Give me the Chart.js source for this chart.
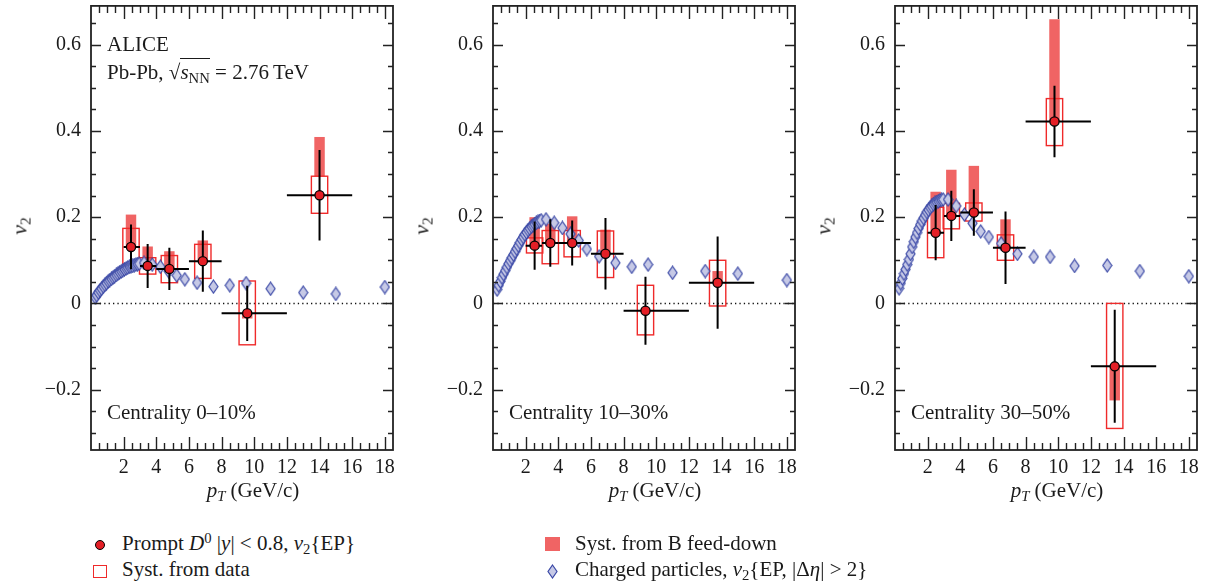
<!DOCTYPE html>
<html>
<head>
<meta charset="utf-8">
<script src="https://cdn.jsdelivr.net/npm/chart.js@4.4.1/dist/chart.umd.min.js"></script>
<style>
  html, body { margin: 0; padding: 0; background: #fff; }
  body { width: 1209px; height: 586px; position: relative; overflow: hidden;
         font-family: "Liberation Serif", "DejaVu Serif", serif; color: #1a1a1a; }
  .panel { position: absolute; top: 0; }
  .txt { position: absolute; font-size: 21px; line-height: 21px; white-space: nowrap; }
  sub, sup { font-size: 0.7em; line-height: 0; }
  sub { vertical-align: -0.28em; }
  sup { vertical-align: 0.5em; }
  .root { border-top: 1.2px solid #1a1a1a; padding-top: 1px; }
  .mk { position: absolute; box-sizing: border-box; }
</style>
</head>
<body>
<script>
// ================================
// Axes
// ================================
const xTicks = [2, 4, 6, 8, 10, 12, 14, 16, 18]
const yTicks = [-0.2, 0, 0.2, 0.4, 0.6]
const yTickLabels = ["\u22120.2", "0", "0.2", "0.4", "0.6"]
const X_MIN = 0, X_MAX = 18.5
const Y_MIN = -0.34, Y_MAX = 0.69

// ================================
// D0 bins (GeV/c)
// ================================
const binLo = [2, 3, 4, 6, 8, 12]
const binHi = [3, 4, 6, 8, 12, 16]
const centralities = ["Centrality 0\u201310%", "Centrality 10\u201330%", "Centrality 30\u201350%"]

// 0-10%
const d0Pt_a = [2.45, 3.47, 4.8, 6.85, 9.57, 14.0]
const d0V2_a = [0.131, 0.087, 0.080, 0.098, -0.023, 0.251]
const d0Stat_a = [0.052, 0.051, 0.049, 0.071, 0.064, 0.105]
const systLo_a = [0.088, 0.068, 0.048, 0.058, -0.096, 0.209]
const systHi_a = [0.174, 0.106, 0.111, 0.137, 0.052, 0.295]
const fdLo_a = [0.131, 0.087, 0.080, 0.098, -0.035, 0.295]
const fdHi_a = [0.206, 0.132, 0.121, 0.146, -0.023, 0.386]

// 10-30%
const d0Pt_b = [2.55, 3.51, 4.85, 6.89, 9.34, 13.76]
const d0V2_b = [0.134, 0.140, 0.140, 0.115, -0.017, 0.048]
const d0Stat_b = [0.056, 0.055, 0.052, 0.083, 0.079, 0.107]
const systLo_b = [0.117, 0.092, 0.108, 0.060, -0.073, -0.006]
const systHi_b = [0.152, 0.169, 0.169, 0.168, 0.042, 0.100]
const fdLo_b = [0.134, 0.140, 0.140, 0.115, -0.017, 0.048]
const fdHi_b = [0.200, 0.185, 0.202, 0.171, -0.017, 0.075]

// 30-50%
const d0Pt_c = [2.49, 3.45, 4.83, 6.77, 9.77, 13.46]
const d0V2_c = [0.164, 0.203, 0.211, 0.129, 0.422, -0.146]
const d0Stat_c = [0.064, 0.058, 0.054, 0.084, 0.083, 0.131]
const systLo_c = [0.106, 0.173, 0.191, 0.100, 0.366, -0.290]
const systHi_c = [0.223, 0.232, 0.233, 0.159, 0.475, 0.0]
const fdLo_c = [0.164, 0.203, 0.211, 0.129, 0.422, -0.225]
const fdHi_c = [0.259, 0.310, 0.319, 0.195, 0.659, -0.146]

// ================================
// Charged particles v2{EP, |Δη| > 2}
// ================================
const chPt = [0.25, 0.35, 0.45, 0.55, 0.65, 0.75, 0.85, 0.95, 1.05, 1.15,
  1.25, 1.35, 1.45, 1.55, 1.65, 1.75, 1.85, 1.95, 2.05, 2.15,
  2.25, 2.35, 2.45, 2.55, 2.65, 2.75, 2.85, 2.95, 3.25, 3.75,
  4.25, 4.75, 5.25, 5.75, 6.5, 7.5, 8.5, 9.5, 11, 13, 15, 18]
const chV2_a = [0.014, 0.019, 0.025, 0.030, 0.034, 0.039, 0.043, 0.047, 0.051, 0.054,
  0.057, 0.060, 0.063, 0.066, 0.069, 0.072, 0.074, 0.077, 0.079, 0.081,
  0.083, 0.085, 0.086, 0.087, 0.089, 0.090, 0.091, 0.092, 0.094, 0.090,
  0.085, 0.075, 0.065, 0.056, 0.048, 0.039, 0.042, 0.047, 0.034, 0.025, 0.022, 0.038]
const chV2_b = [0.032, 0.042, 0.051, 0.060, 0.068, 0.076, 0.084, 0.092, 0.099, 0.106,
  0.113, 0.120, 0.127, 0.134, 0.141, 0.148, 0.154, 0.160, 0.165, 0.170,
  0.174, 0.178, 0.181, 0.184, 0.187, 0.189, 0.191, 0.193, 0.195, 0.187,
  0.175, 0.161, 0.146, 0.126, 0.109, 0.094, 0.085, 0.090, 0.071, 0.075, 0.069, 0.054]
const chV2_c = [0.035, 0.047, 0.058, 0.069, 0.079, 0.090, 0.102, 0.115, 0.131, 0.143,
  0.154, 0.164, 0.174, 0.183, 0.191, 0.198, 0.205, 0.212, 0.217, 0.222,
  0.226, 0.230, 0.233, 0.235, 0.237, 0.239, 0.240, 0.241, 0.241, 0.226,
  0.206, 0.186, 0.167, 0.154, 0.139, 0.115, 0.108, 0.108, 0.087, 0.088, 0.075, 0.063]

// ================================
// Panel layout
// ================================
const AREA_LEFT = [91, 493, 895]
const AREA_W = 302
const Y_AXIS_W = 93
const PAD_RIGHT = 8
const CANVAS_H = 520
const AREA_TOP = 4
const AREA_BOTTOM = 450

const RED = "#e41f26"
const FD_RED = "#f06464"
const BOX_RED = "#ef2a2a"
const INK = "#1a1a1a"

const panels = [
  { pt: d0Pt_a, v2: d0V2_a, stat: d0Stat_a, sLo: systLo_a, sHi: systHi_a, fLo: fdLo_a, fHi: fdHi_a, ch: chV2_a },
  { pt: d0Pt_b, v2: d0V2_b, stat: d0Stat_b, sLo: systLo_b, sHi: systHi_b, fLo: fdLo_b, fHi: fdHi_b, ch: chV2_b },
  { pt: d0Pt_c, v2: d0V2_c, stat: d0Stat_c, sLo: systLo_c, sHi: systHi_c, fLo: fdLo_c, fHi: fdHi_c, ch: chV2_c },
]

// diamond marker for charged particles
function makeDiamond(w, h) {
  const c = document.createElement("canvas")
  c.width = w
  c.height = h
  const g = c.getContext("2d")
  g.beginPath()
  g.moveTo(w / 2, 1)
  g.lineTo(w - 1, h / 2)
  g.lineTo(w / 2, h - 1)
  g.lineTo(1, h / 2)
  g.closePath()
  g.fillStyle = "#c6c9e6"
  g.fill()
  g.strokeStyle = "#3a48a6"
  g.lineWidth = 1.2
  g.stroke()
  return c
}
const diamond = makeDiamond(11, 15)

// no automatic label padding: chart area is fixed by the layout numbers
function noPadding(s) {
  s.paddingTop = 0
  s.paddingBottom = 0
  s.paddingLeft = 0
  s.paddingRight = 0
}

// ================================
// Plugin: syst boxes, error bars, inward ticks
// ================================
function hepPlugin(p) {
  return {
    id: "hep",
    beforeDatasetsDraw(chart) {
      const { ctx, chartArea: a, scales: { x, y } } = chart
      ctx.save()
      ctx.beginPath()
      ctx.rect(a.left, a.top, a.right - a.left, a.bottom - a.top)
      ctx.clip()

      // dotted zero line
      const y0 = Math.round(y.getPixelForValue(0)) + 0.5
      ctx.strokeStyle = "#111"
      ctx.lineWidth = 1.3
      ctx.setLineDash([1.3, 3.1])
      ctx.beginPath()
      ctx.moveTo(a.left, y0)
      ctx.lineTo(a.right, y0)
      ctx.stroke()
      ctx.setLineDash([])

      // B feed-down (filled)
      ctx.fillStyle = FD_RED
      p.pt.forEach((pt, i) => {
        const x0 = x.getPixelForValue(pt - 0.32)
        const x1 = x.getPixelForValue(pt + 0.32)
        const yt = y.getPixelForValue(p.fHi[i])
        const yb = y.getPixelForValue(p.fLo[i])
        ctx.fillRect(x0, yt, x1 - x0, yb - yt)
      })

      // syst. from data (open)
      ctx.strokeStyle = BOX_RED
      ctx.lineWidth = 1.4
      p.pt.forEach((pt, i) => {
        const x0 = x.getPixelForValue(pt - 0.5)
        const x1 = x.getPixelForValue(pt + 0.5)
        const yt = y.getPixelForValue(p.sHi[i])
        const yb = y.getPixelForValue(p.sLo[i])
        ctx.strokeRect(x0, yt, x1 - x0, yb - yt)
      })
      ctx.restore()
    },
    beforeDatasetDraw(chart, args) {
      if (args.index !== 0) return
      const { ctx, scales: { x, y } } = chart
      ctx.save()
      ctx.strokeStyle = "#000"
      ctx.lineWidth = 2
      p.pt.forEach((pt, i) => {
        const px = x.getPixelForValue(pt)
        const py = y.getPixelForValue(p.v2[i])
        ctx.beginPath()
        ctx.moveTo(x.getPixelForValue(binLo[i]), py)
        ctx.lineTo(x.getPixelForValue(binHi[i]), py)
        ctx.moveTo(px, y.getPixelForValue(p.v2[i] + p.stat[i]))
        ctx.lineTo(px, y.getPixelForValue(p.v2[i] - p.stat[i]))
        ctx.stroke()
      })
      ctx.restore()
    },
    afterDraw(chart) {
      const { ctx, chartArea: a, scales: { x, y } } = chart
      ctx.save()
      ctx.strokeStyle = "#222"
      ctx.lineWidth = 1.4
      ctx.beginPath()
      // x: minor every 0.5, major every 2
      for (let i = 1; i * 0.5 < X_MAX; i++) {
        const len = i % 4 === 0 ? 13 : 7
        const px = Math.round(x.getPixelForValue(i * 0.5)) + 0.5
        ctx.moveTo(px, a.bottom)
        ctx.lineTo(px, a.bottom - len)
        ctx.moveTo(px, a.top)
        ctx.lineTo(px, a.top + len)
      }
      // y: minor every 0.05, major every 0.2
      for (let i = Math.ceil(Y_MIN / 0.05); i * 0.05 < Y_MAX; i++) {
        const len = i % 4 === 0 ? 10 : 5
        const py = Math.round(y.getPixelForValue(i * 0.05)) + 0.5
        ctx.moveTo(a.left, py)
        ctx.lineTo(a.left + len, py)
        ctx.moveTo(a.right, py)
        ctx.lineTo(a.right - len, py)
      }
      ctx.stroke()
      ctx.lineWidth = 1.8
      ctx.strokeRect(a.left, a.top, a.right - a.left, a.bottom - a.top)
      ctx.restore()
    },
  }
}

// ================================
// Text helpers
// ================================
function addText(html, left, baseline, extra) {
  const d = document.createElement("div")
  d.className = "txt"
  d.innerHTML = html
  d.style.left = left + "px"
  d.style.top = Math.round(baseline - 17.6) + "px"
  if (extra) Object.assign(d.style, extra)
  document.body.appendChild(d)
  return d
}

// ================================
// Charts
// ================================
const tickFont = { family: "Liberation Serif", size: 20 }

panels.forEach((p, k) => {
  const wrap = document.createElement("div")
  wrap.className = "panel"
  wrap.style.left = (AREA_LEFT[k] - Y_AXIS_W) + "px"
  const cv = document.createElement("canvas")
  cv.width = Y_AXIS_W + AREA_W + PAD_RIGHT
  cv.height = CANVAS_H
  wrap.appendChild(cv)
  document.body.appendChild(wrap)

  new Chart(cv.getContext("2d"), {
    type: "scatter",
    data: {
      datasets: [
        {
          label: "D0",
          data: p.pt.map((v, i) => ({ x: v, y: p.v2[i] })),
          backgroundColor: RED,
          borderColor: "#000",
          borderWidth: 1.3,
          pointRadius: 4.6,
          order: 0,
        },
        {
          label: "charged",
          data: chPt.map((v, i) => ({ x: v, y: p.ch[i] })),
          pointStyle: diamond,
          order: 1,
        },
      ],
    },
    options: {
      responsive: false,
      animation: false,
      events: [],
      layout: { padding: { top: AREA_TOP, right: PAD_RIGHT, left: 0, bottom: 0 } },
      plugins: { legend: { display: false }, tooltip: { enabled: false } },
      scales: {
        x: {
          type: "linear",
          min: X_MIN,
          max: X_MAX,
          afterBuildTicks: (s) => { s.ticks = xTicks.map((v) => ({ value: v })) },
          afterFit: (s) => { s.height = CANVAS_H - AREA_BOTTOM; noPadding(s) },
          ticks: { font: tickFont, color: INK, padding: 6, maxRotation: 0, autoSkip: false,
                   callback: (v) => String(v) },
          grid: { display: false, drawTicks: false },
          border: { display: false },
        },
        y: {
          type: "linear",
          min: Y_MIN,
          max: Y_MAX,
          afterBuildTicks: (s) => { s.ticks = yTicks.map((v) => ({ value: v })) },
          afterFit: (s) => { s.width = Y_AXIS_W; noPadding(s) },
          ticks: { font: tickFont, color: INK, padding: 10, autoSkip: false,
                   callback: (v) => yTickLabels[yTicks.indexOf(v)] },
          grid: { display: false, drawTicks: false },
          border: { display: false },
        },
      },
    },
    plugins: [hepPlugin(p)],
  })

  // axis titles and centrality label
  const left = AREA_LEFT[k]
  addText("<i>v</i><sub>2</sub>", left - 72, 232,
    { transform: "translate(-50%, -50%) rotate(-90deg)", transformOrigin: "50% 50%", top: "226px", fontSize: "22px" })
  addText("<i>p</i><sub><i>T</i></sub> (GeV/c)", left + AREA_W / 2 + 11, 498,
    { transform: "translateX(-50%)" })
  addText(centralities[k], left + 16, 420)
})

addText("ALICE", 107, 52)
addText("Pb-Pb, \u221A<span class=\"root\"><i>s</i><sub>NN</sub></span> = 2.76\u2009TeV", 107, 80)

// ================================
// Legend
// ================================
function addMarker(css) {
  const m = document.createElement("div")
  m.className = "mk"
  Object.assign(m.style, css)
  document.body.appendChild(m)
}
addMarker({ left: "95px", top: "540px", width: "10px", height: "10px", borderRadius: "50%",
            background: RED, border: "1.3px solid #000" })
addText("Prompt <i>D</i><sup>0</sup> |<i>y</i>| &lt; 0.8, <i>v</i><sub>2</sub>{EP}", 122, 551)
addMarker({ left: "93px", top: "565px", width: "14px", height: "13px", border: "1.4px solid " + BOX_RED })
addText("Syst. from data", 122, 577)
addMarker({ left: "545px", top: "537px", width: "15px", height: "14px", background: FD_RED })
addText("Syst. from B feed-down", 575, 551)
const dm = diamond.cloneNode()
dm.getContext("2d").drawImage(diamond, 0, 0)
dm.className = "mk"
dm.style.left = "547px"
dm.style.top = "564px"
document.body.appendChild(dm)
addText("Charged particles, <i>v</i><sub>2</sub>{EP, |\u0394<i>\u03B7</i>| &gt; 2}", 575, 577)
</script>
</body>
</html>
